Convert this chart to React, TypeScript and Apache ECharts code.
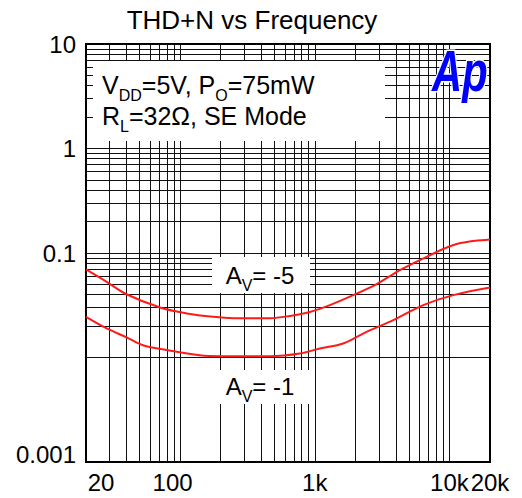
import React, { useEffect, useRef } from "react";
import * as echarts from "echarts";

const FONT = '"Liberation Sans", Arial, Helvetica, sans-serif';

// Curve data (frequency in Hz, THD+N in %)
const freqAv5 = [20, 28.5, 40, 71, 112, 176, 248, 465, 654, 920, 1295, 1930, 2880, 4290, 6770, 11300, 20000];
const thdAv5 = [0.0697, 0.053, 0.0403, 0.0301, 0.0264, 0.0245, 0.0238, 0.0238, 0.025, 0.0273, 0.0317, 0.0395, 0.0504, 0.0686, 0.092, 0.1217, 0.135];

const freqAv1 = [20, 28.5, 40, 53, 79, 140, 200, 465, 775, 1090, 1625, 2425, 3830, 6390, 10670, 20000];
const thdAv1 = [0.0245, 0.019, 0.0156, 0.0131, 0.0118, 0.0105, 0.0103, 0.0103, 0.0109, 0.0122, 0.0136, 0.0176, 0.0228, 0.0317, 0.0395, 0.0468];

// Axis ticks and labels
const xTickValues = [20, 100, 1000, 10000, 20000];
const xTickLabels = ["20", "100", "1k", "10k", "20k"];
const yTickValues = [0.001, 0.01, 0.1, 1, 10];
const yTickLabels = ["0.001", "", "0.1", "1", "10"];

// Grid lines (log-spaced)
const xGridValues = [30, 40, 50, 60, 70, 80, 90, 100, 200, 300, 400, 500, 600, 700, 800, 900, 1000, 2000, 3000, 4000, 5000, 6000, 7000, 8000, 9000, 10000];
const yGridValues = [
  0.002, 0.003, 0.004, 0.005, 0.006, 0.007, 0.008, 0.009, 0.01,
  0.02, 0.03, 0.04, 0.05, 0.06, 0.07, 0.08, 0.09, 0.1,
  0.2, 0.3, 0.4, 0.5, 0.6, 0.7, 0.8, 0.9, 1,
  2, 3, 4, 5, 6, 7, 8, 9,
];

const TITLE = "THD+N vs Frequency";

function nearestIndex(arr: number[], v: number) {
  let best = 0;
  let bd = Infinity;
  arr.forEach((a, i) => {
    const d = Math.abs(Math.log10(a) - Math.log10(v));
    if (d < bd) {
      bd = d;
      best = i;
    }
  });
  return best;
}

const main = { fontSize: 25, fontFamily: FONT, color: "#000", lineHeight: 24 };
const sub = { fontSize: 16, fontFamily: FONT, color: "#000", lineHeight: 24, padding: [20, 0, 0, 0] };
const mainAv = { fontSize: 24, fontFamily: FONT, color: "#000", lineHeight: 24 };

export default function App() {
  const ref = useRef<HTMLDivElement>(null);
  useEffect(() => {
    document.body.style.margin = "0";
    const chart = echarts.init(ref.current!, null, { renderer: "svg" });
    const option: any = {
      animation: false,
      backgroundColor: "#fff",
      grid: {
        left: 86,
        right: 32,
        top: 44,
        bottom: 36,
        show: true,
        borderColor: "#000",
        borderWidth: 2,
        backgroundColor: "transparent",
      },
      xAxis: {
        type: "log",
        logBase: 10,
        min: 20,
        max: 20000,
        axisLine: { show: true, lineStyle: { color: "#000", width: 2 } },
        axisTick: { show: false },
        splitLine: { show: false },
        axisLabel: {
          show: true,
          margin: 8,
          showMinLabel: true,
          showMaxLabel: true,
          formatter: (v: number) => {
            const i = nearestIndex(xTickValues, v);
            const t = xTickLabels[i];
            if (t === "20") return "{l20|" + t + "}";
            if (t === "100") return "{l100|" + t + "}";
            return "{n|" + t + "}";
          },
          rich: {
            n: { fontSize: 24, fontFamily: FONT, color: "#000" },
            l20: { fontSize: 24, fontFamily: FONT, color: "#000", padding: [0, 0, 0, 30] },
            l100: { fontSize: 24, fontFamily: FONT, color: "#000", padding: [0, 15, 0, 0] },
          },
        },
      },
      yAxis: {
        type: "log",
        logBase: 10,
        min: 0.001,
        max: 10,
        axisLine: { show: true, lineStyle: { color: "#000", width: 2 } },
        axisTick: { show: false },
        splitLine: { show: false },
        axisLabel: {
          show: true,
          margin: 10,
          showMinLabel: true,
          showMaxLabel: true,
          formatter: (v: number) => {
            const i = nearestIndex(yTickValues, v);
            const t = yTickLabels[i];
            if (!t) return "";
            if (i === 0) return "{low|" + t + "}";
            return "{n|" + t + "}";
          },
          rich: {
            n: { fontSize: 24, fontFamily: FONT, color: "#000" },
            low: { fontSize: 24, fontFamily: FONT, color: "#000", padding: [0, 0, 16, 0] },
          },
        },
      },
      series: [
        {
          type: "line",
          name: "grid",
          z: 1,
          silent: true,
          showSymbol: false,
          symbol: "none",
          lineStyle: { opacity: 0 },
          data: [[20, 0.001]],
          markLine: {
            silent: true,
            symbol: "none",
            label: { show: false },
            lineStyle: { color: "#111", width: 1, type: "solid" },
            emphasis: { disabled: true },
            data: [
              ...xGridValues.map((v) => ({ xAxis: v })),
              ...yGridValues.map((v) => ({ yAxis: v })),
            ],
          },
        },
        {
          type: "line",
          name: "Av=-5",
          z: 5,
          symbol: "none",
          smooth: 0.35,
          lineStyle: { color: "#ff1a1a", width: 2 },
          data: freqAv5.map((f, i) => [f, thdAv5[i]]),
        },
        {
          type: "line",
          name: "Av=-1",
          z: 5,
          symbol: "none",
          smooth: 0.35,
          lineStyle: { color: "#ff1a1a", width: 2 },
          data: freqAv1.map((f, i) => [f, thdAv1[i]]),
        },
      ],
      graphic: [
        {
          type: "text",
          x: 252,
          y: 20,
          z: 20,
          style: {
            text: TITLE,
            fontSize: 26,
            fontFamily: FONT,
            fill: "#000",
            textAlign: "center",
            textVerticalAlign: "middle",
          },
        },
        {
          type: "rect",
          z: 20,
          shape: { x: 93, y: 61, width: 292, height: 80 },
          style: { fill: "#fff" },
        },
        {
          type: "text",
          x: 102,
          y: 85,
          z: 21,
          style: {
            text: "{m|V}{s|DD}{m|=5V, P}{s|O}{m|=75mW}",
            rich: { m: main, s: sub },
            textAlign: "left",
            textVerticalAlign: "middle",
          },
        },
        {
          type: "text",
          x: 102,
          y: 116,
          z: 21,
          style: {
            text: "{m|R}{s|L}{m|=32\u03A9, SE Mode}",
            rich: { m: main, s: sub },
            textAlign: "left",
            textVerticalAlign: "middle",
          },
        },
        {
          type: "rect",
          z: 20,
          shape: { x: 212, y: 257, width: 98, height: 36 },
          style: { fill: "#fff" },
        },
        {
          type: "text",
          x: 260,
          y: 275.5,
          z: 21,
          style: {
            text: "{m|A}{s|V}{m|= -5}",
            rich: { m: mainAv, s: sub },
            textAlign: "center",
            textVerticalAlign: "middle",
          },
        },
        {
          type: "rect",
          z: 20,
          shape: { x: 212, y: 370, width: 98, height: 34 },
          style: { fill: "#fff" },
        },
        {
          type: "text",
          x: 260,
          y: 386,
          z: 21,
          style: {
            text: "{m|A}{s|V}{m|= -1}",
            rich: { m: mainAv, s: sub },
            textAlign: "center",
            textVerticalAlign: "middle",
          },
        },
        {
          type: "text",
          x: 432,
          y: 42,
          z: 21,
          scaleX: 0.72,
          style: {
            text: "Ap",
            fontSize: 58,
            fontStyle: "italic",
            fontWeight: "bold",
            fontFamily: FONT,
            fill: "#0000ff",
            stroke: "#fff",
            lineWidth: 3,
            textAlign: "left",
            textVerticalAlign: "top",
          },
        },
      ],
    };
    chart.setOption(option);
    return () => chart.dispose();
  }, []);
  return <div ref={ref} style={{ width: 522, height: 498 }} />;
}
